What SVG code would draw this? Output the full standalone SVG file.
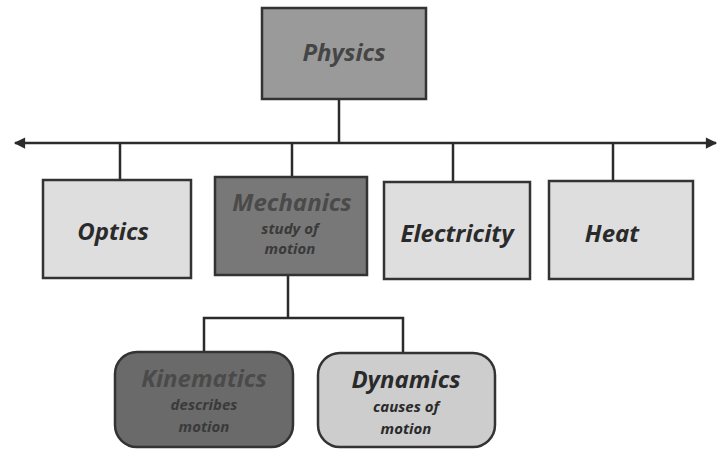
<svg xmlns="http://www.w3.org/2000/svg" width="722" height="451" viewBox="0 0 722 451">
<style>
.box{stroke:#333;stroke-width:2.5}
.ln{stroke:#2b2b2b;stroke-width:2.5;fill:none}
.t{font-family:"Open Sans","Liberation Sans",sans-serif;font-style:italic;font-weight:bold;text-anchor:middle}
.big{font-size:24px}
.sm{font-size:15px}
</style>
<defs>
<marker id="ah" viewBox="0 0 10 10" refX="9" refY="5" markerWidth="5.5" markerHeight="4.5" orient="auto-start-reverse" markerUnits="strokeWidth">
<path d="M0,0 L10,5 L0,10 Z" fill="#2b2b2b"/>
</marker>
</defs>
<rect width="722" height="451" fill="#fff"/>
<g id="connectors">
<line class="ln" x1="339" y1="99" x2="339" y2="143"/>
<line class="ln" x1="15" y1="143" x2="716" y2="143" marker-start="url(#ah)" marker-end="url(#ah)"/>
<line class="ln" x1="120" y1="143" x2="120" y2="180"/>
<line class="ln" x1="292" y1="143" x2="292" y2="177"/>
<line class="ln" x1="453" y1="143" x2="453" y2="182"/>
<line class="ln" x1="613" y1="143" x2="613" y2="181"/>
<line class="ln" x1="288" y1="275" x2="288" y2="318"/>
<polyline class="ln" points="204,352 204,318 403,318 403,353"/>
</g>
<g id="physics">
<rect class="box" x="262" y="8" width="164" height="91" fill="#9a9a9a"/>
<text class="t big" x="344" y="61" fill="#454545">Physics</text>
</g>
<g id="optics">
<rect class="box" x="43" y="180" width="148" height="98" fill="#dedede"/>
<text class="t big" x="113" y="240" fill="#2a2a2a">Optics</text>
</g>
<g id="mechanics">
<rect class="box" x="215" y="177" width="152" height="98" fill="#787878"/>
<text class="t big" x="292" y="211" fill="#4a4a4a">Mechanics</text>
<text class="t sm" x="290" y="234" fill="#3a3a3a">study of</text>
<text class="t sm" x="290" y="254" fill="#3a3a3a">motion</text>
</g>
<g id="electricity">
<rect class="box" x="384" y="182" width="146" height="97" fill="#dedede"/>
<text class="t big" x="457" y="242" fill="#2a2a2a">Electricity</text>
</g>
<g id="heat">
<rect class="box" x="549" y="181" width="144" height="98" fill="#dedede"/>
<text class="t big" x="612" y="242" fill="#2a2a2a">Heat</text>
</g>
<g id="kinematics">
<rect class="box" x="115" y="352" width="178" height="95" rx="22" fill="#6a6a6a"/>
<text class="t big" x="204" y="387" fill="#4a4a4a">Kinematics</text>
<text class="t sm" x="204" y="410" fill="#3a3a3a">describes</text>
<text class="t sm" x="204" y="432" fill="#3a3a3a">motion</text>
</g>
<g id="dynamics">
<rect class="box" x="318" y="353" width="177" height="94" rx="22" fill="#cdcdcd"/>
<text class="t big" x="406" y="388" fill="#2a2a2a">Dynamics</text>
<text class="t sm" x="406" y="412" fill="#2a2a2a">causes of</text>
<text class="t sm" x="406" y="434" fill="#2a2a2a">motion</text>
</g>
</svg>
